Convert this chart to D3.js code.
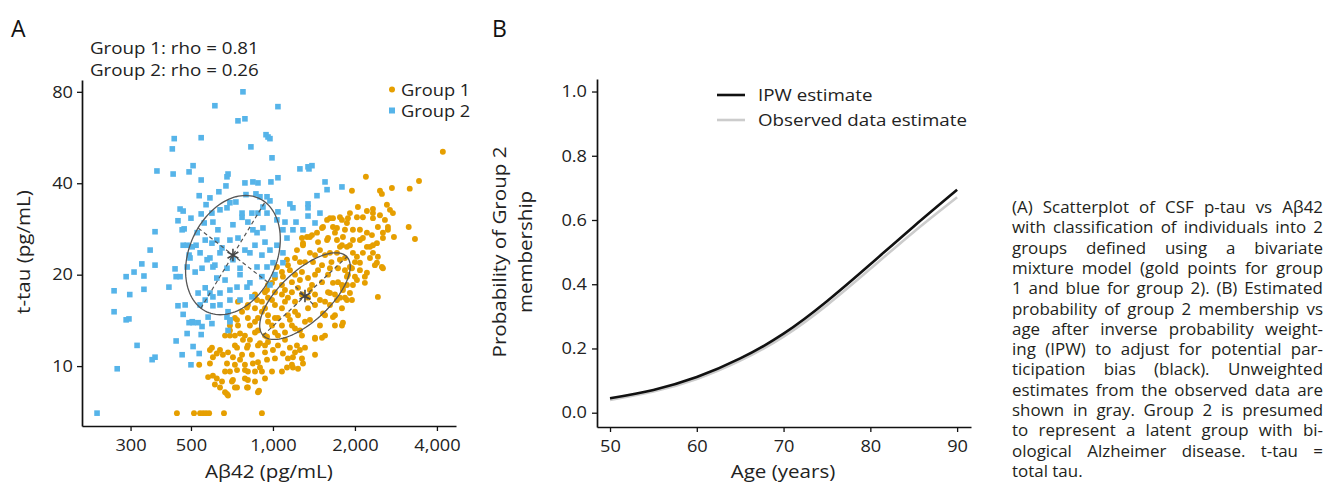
<!DOCTYPE html>
<html>
<head>
<meta charset="utf-8">
<script src="https://cdn.jsdelivr.net/npm/d3@7"></script>
<style>
  html, body { margin: 0; padding: 0; background: #fff; }
  svg { display: block; }
  text { font-family: "Open Sans", sans-serif; }
</style>
</head>
<body>
<svg id="chart" width="1327" height="488"></svg>
<script>
// ---------------- DATA ----------------
// Panel A: Aβ42 (pg/mL), t-tau (pg/mL)
const group1Points = [
[4205,50.8],[3438,40.7],[3178,38.4],[2734,38.6],[2471,37.8],[2512,36.9],[2194,42.0],[1950,37.8],[2757,31.9],[2621,34.0],[3151,28.7],[3322,26.2],[2781,26.6],[2428,16.9],[2534,21.0],[2408,21.9],[2329,23.6],[2534,27.5],[2643,28.7],[2577,30.3],[2213,27.5],[2051,33.4],[1917,31.9],[2139,30.9],[2329,31.9],[1762,30.9],[1619,30.7],[1527,28.7],[1661,28.7],[1869,29.6],[1966,28.1],[2086,26.0],[2271,24.7],[2139,23.6],[1966,23.6],[1869,24.7],[1718,26.0],[1580,26.0],[1451,27.5],[1367,26.6],[1289,25.4],[1367,23.6],[1488,24.1],[1619,23.6],[1762,22.4],[1917,21.2],[2086,21.9],[2213,20.3],[2034,19.2],[1869,19.7],[1807,18.2],[1661,18.8],[1619,17.4],[1718,16.5],[1869,16.5],[1807,13.9],[1661,14.5],[1527,14.9],[1514,12.4],[1427,12.3],[1289,10.2],[1184,9.9],[1126,9.9],[1256,11.3],[1154,11.5],[1184,10.7],[1088,11.0],[1000,11.3],[951,10.5],[896,9.9],[844,10.2],[789,9.7],[809,9.0],[889,8.3],[803,8.5],[738,9.7],[678,10.2],[713,10.7],[655,10.9],[602,10.7],[587,11.3],[639,11.3],[578,9.2],[622,9.1],[639,8.5],[678,8.1],[738,8.5],[713,9.0],[602,9.3],[536,10.1],[587,10.2],[695,12.6],[757,12.8],[823,12.2],[896,11.9],[951,12.5],[803,11.5],[738,11.5],
[1464,25.6],[1593,26.4],[1689,27.5],[1792,25.0],[1427,23.2],[1289,25.0],[1205,22.7],[1311,22.0],[1135,21.5],[1079,20.4],[1017,19.5],[959,18.5],[935,17.5],[1017,17.5],[1079,18.5],[1174,18.9],[1236,18.1],[1391,18.5],[1514,18.9],[1593,20.0],[1427,20.0],[1278,20.4],[1514,21.5],[1640,22.0],[1733,21.0],[1838,22.7],[1885,20.0],[1792,18.5],[1689,17.2],[1553,16.3],[1427,15.9],[1345,16.8],[1205,16.3],[1107,16.3],[1017,15.9],[935,15.5],[859,15.5],[809,15.9],[770,15.1],[725,14.4],[744,13.6],[809,14.4],[881,14.4],[959,14.0],[1043,14.4],[1135,14.7],[1236,14.7],[1311,14.0],[1205,13.3],[1107,12.9],[1017,12.9],[935,12.6],[859,12.9],[789,12.6],[725,12.6],[809,11.7],[881,11.7],[959,12.0],[1043,11.7],[935,11.1],[837,10.9],[770,10.9],[725,11.7],[684,11.1],[667,12.6],[695,13.6],[744,16.3],[859,17.2],[911,16.3],[959,16.8],[1079,17.2],[1174,17.5],[1278,17.2],[959,14.7],[859,14.0],[1593,17.5],[1427,17.2],[1345,15.5],[1205,15.1],[1079,15.5],[1174,13.6],[1079,13.6],[992,13.6],[1689,13.6],[1553,12.6],[1427,12.4],[1278,12.6],[1311,11.5],[1205,11.1],[1135,10.6],[1278,10.6],[1427,10.9],[1017,10.6],[881,10.3],[789,10.1],[725,10.1],[667,9.6],[650,8.9],[707,8.9],[789,9.1],[859,8.9],[935,9.1],[992,9.6],[809,9.6],[725,8.5],[809,8.5],[881,8.2],[667,8.2],[684,8.0],[911,9.6],[1079,9.6],[1174,10.1],[1236,9.8],[1792,13.6],[1792,15.5],[1689,14.7],[1838,16.8],[1869,18.5],[1733,18.9],
[2329,32.9],[2213,32.4],[2689,32.7],[1661,30.7],[1792,30.3],[1885,30.7],[2034,30.9],[2329,30.7],[2471,31.4],[1718,28.5],[1838,28.1],[2086,28.1],[2428,28.7],[2643,28.1],[2534,26.4],[1807,26.6],[1966,26.0],[2139,26.4],[2309,27.0],[2408,25.4],[1762,24.7],[1917,25.0],[2213,24.7],[2329,25.0],[1718,23.6],[2034,22.9],[2271,22.7],[2428,22.9],[2512,21.2],[2368,21.5],[2086,20.7],[1950,21.0],[2000,19.7],[2175,19.7],[2175,18.8],[1966,18.5],[1807,17.8],[1917,17.4],
[1126,22.4],[1225,24.1],[1333,26.6],[1580,30.3],[1034,21.2],[1088,19.7],[992,18.8],[951,17.8],[874,16.5],[803,15.6],[738,14.2],[695,13.1],[1514,28.5],[1391,27.0],[1278,26.4],[597,11.5],[622,11.0],[612,8.7],
[1256,19.2],[1367,17.8],[1488,16.5],[1205,20.0],[1107,17.8],[992,16.5],[911,15.1],[823,13.6],[776,12.2],[881,13.1],[1043,12.6],[1154,14.2],[1256,13.1],[1367,14.2],[1553,14.7],[1619,15.9],[1762,16.8],[1464,20.7],[1619,21.0],[1345,19.5],[1135,16.8],[1017,14.4],[935,11.7],[757,10.5],[695,9.6],[859,9.6],[1107,12.2],[1225,11.7],[1488,13.6],[1950,16.5],[2000,22.0],[1838,20.7],[1553,23.2],[1403,22.0],[1256,22.0],[1154,20.7],
[444,7.0],[513,7.0],[540,7.0],[554,7.0],[568,7.0],[583,7.0],[661,7.0],[911,7.0]
];
const group2Points = [
[776,80.0],[612,72.0],[1043,71.5],[744,64.2],[789,65.2],[943,57.8],[959,56.8],[975,56.1],[545,56.5],[434,56.1],[427,51.9],[830,52.7],[992,48.5],[375,43.9],[430,42.9],[492,43.6],[509,45.7],[1256,44.6],[1345,45.3],[1391,45.7],[1356,44.6],[684,42.9],[678,42.0],[672,39.2],[545,41.0],[633,37.5],[536,36.4],[587,35.8],[789,40.1],[844,40.4],[881,40.1],[983,40.4],[1043,41.7],[1553,40.4],[1580,38.1],[1792,38.9],[1451,36.4],[866,36.9],[896,36.1],[951,36.1],[975,35.0],[456,32.9],[468,32.4],[500,30.7],[545,31.7],[597,31.9],[639,32.7],[695,34.5],[731,34.7],[678,33.2],[770,31.9],[837,31.9],[881,31.9],[951,31.9],[1043,32.2],[1154,34.2],[1184,33.2],[1345,34.2],[1345,33.2],[1488,31.9],[1427,29.6],[1345,31.2],[369,27.7],[448,30.1],[472,28.3],[527,27.5],[559,29.6],[602,29.8],[628,28.1],[713,29.2],[770,30.9],[809,29.8],[844,28.1],[874,27.5],[919,28.5],[1034,30.3],[1088,28.1],[1184,28.1],[1289,28.1],[1126,26.4],[1034,25.0],[1088,23.6],[354,24.1],[330,21.7],[369,21.5],[309,20.4],[289,19.7],[336,19.8],[296,14.3],[289,14.2],[261,17.7],[261,15.1],[336,17.9],[415,18.2],[437,20.9],[441,19.7],[456,19.7],[484,21.2],[492,23.2],[484,25.0],[522,25.0],[540,23.6],[573,22.4],[622,26.0],[639,23.6],[602,21.2],[678,21.0],[713,22.4],[757,21.0],[823,23.6],[874,21.2],[951,21.2],[1000,21.9],[1088,21.9],[911,19.7],[803,18.2],[738,18.2],[695,17.8],[639,17.4],[587,17.4],[531,17.4],[540,15.9],[578,14.5],[602,15.8],[678,14.5],[695,14.0],[684,15.1],[492,13.9],[509,13.9],[531,13.9],[549,13.5],[484,12.8],[545,12.7],[441,12.1],[536,11.0],[509,11.6],[464,10.9],[369,10.7],[360,10.5],[268,9.8],[500,10.1],[226,7.0],[317,11.7],[468,14.8],[505,14.0],[597,13.8],[564,18.1],[602,16.9],[518,20.4],[549,21.0],[496,22.7],[468,25.0],[505,24.7],[464,28.1],[564,26.0],[597,25.4],[587,22.7],[612,21.5],[695,26.0],[650,24.5],[744,26.4],[789,24.1],[859,25.0],[935,25.6],[975,24.1],[911,23.2],[757,20.0],[667,19.2],[823,18.8],[622,19.5],[1017,20.0],[975,18.5],[695,16.5],[639,15.9],[757,16.5],[837,16.9],[684,13.1],[695,14.2],[564,16.5],[476,15.9],[448,15.8],[298,17.2],[1107,29.8],[1215,29.8],[919,33.4],[568,34.0],[796,36.7]
];
// Fitted ellipses: center, end of major semi-axis, end of minor semi-axis, end of drawn minor axis
const group1Ellipse = { center: [1311, 17.0], major: [1869, 22.9], minor: [1514, 14.8], minorAxis: [1421, 15.8] };
const group2Ellipse = { center: [713, 23.2], major: [935, 34.7], minor: [531, 28.5], minorAxis: [531, 28.5] };
const rhoLabels = ["Group 1: rho = 0.81", "Group 2: rho = 0.26"];
const groupNames = ["Group 1", "Group 2"];
const xTicksA = [300, 500, 1000, 2000, 4000];
const yTicksA = [10, 20, 40, 80];

// Panel B
const ages = [50, 55, 60, 65, 70, 75, 80, 85, 90];
const ipwEstimate = [0.045, 0.071, 0.111, 0.169, 0.246, 0.347, 0.462, 0.580, 0.694];
const observedEstimate = [0.040, 0.066, 0.105, 0.162, 0.237, 0.335, 0.448, 0.563, 0.671];
const seriesNames = ["IPW estimate", "Observed data estimate"];
const xTicksB = [50, 60, 70, 80, 90];
const yTicksB = [0, 0.2, 0.4, 0.6, 0.8, 1.0];

const captionLines = [
  "(A) Scatterplot of CSF p-tau vs A\u03b242",
  "with classification of individuals into 2",
  "groups defined using a bivariate",
  "mixture model (gold points for group",
  "1 and blue for group 2). (B) Estimated",
  "probability of group 2 membership vs",
  "age after inverse probability weight-",
  "ing (IPW) to adjust for potential par-",
  "ticipation bias (black). Unweighted",
  "estimates from the observed data are",
  "shown in gray. Group 2 is presumed",
  "to represent a latent group with bi-",
  "ological Alzheimer disease. t-tau =",
  "total tau."
];

// ---------------- DRAW ----------------
function stretch(sel, k) {
  sel.each(function () {
    const w = this.getComputedTextLength();
    d3.select(this).attr("textLength", w * k).attr("lengthAdjust", "spacingAndGlyphs");
  });
  return sel;
}

function draw() {
const svg = d3.select("#chart");
const ORANGE = "#E69F00", BLUE = "#56B4E9";
const TICK_FS = 16.4, TICK_K = 1.11;
const TITLE_FS = 18.2, TITLE_K = 1.13;
const NOTE_FS = 17.2, NOTE_K = 1.09;

// ===== Panel A =====
const xA = d3.scaleLog().domain([199, 4700]).range([82, 456]);
const yA = d3.scaleLog().domain([6.35, 87.5]).range([426, 80]);
const gA = svg.append("g");

gA.append("text").attr("x", 11).attr("y", 37).attr("font-size", 23).attr("fill", "#111").text("A");
rhoLabels.forEach((t, i) => {
  stretch(gA.append("text").attr("x", 90).attr("y", 54 + i * 22).attr("font-size", NOTE_FS).attr("fill", "#222").text(t), NOTE_K);
});

// points
gA.append("g").selectAll("circle").data(group1Points).join("circle")
  .attr("cx", d => xA(d[0])).attr("cy", d => yA(d[1])).attr("r", 2.95).attr("fill", ORANGE);
const sq = 5.6;
gA.append("g").selectAll("rect").data(group2Points).join("rect")
  .attr("x", d => xA(d[0]) - sq / 2).attr("y", d => yA(d[1]) - sq / 2)
  .attr("width", sq).attr("height", sq).attr("fill", BLUE);

// ellipses
function px(p) { return [xA(p[0]), yA(p[1])]; }
[group2Ellipse, group1Ellipse].forEach(e => {
  const c = px(e.center), a = px(e.major), b = px(e.minor), m = px(e.minorAxis);
  const va = [a[0] - c[0], a[1] - c[1]], vb = [b[0] - c[0], b[1] - c[1]];
  const pts = d3.range(0, 361, 3).map(deg => {
    const t = deg * Math.PI / 180;
    return [c[0] + Math.cos(t) * va[0] + Math.sin(t) * vb[0], c[1] + Math.cos(t) * va[1] + Math.sin(t) * vb[1]];
  });
  gA.append("path").attr("d", d3.line()(pts)).attr("fill", "none").attr("stroke", "#555").attr("stroke-width", 1.3);
  gA.append("line").attr("x1", 2 * c[0] - a[0]).attr("y1", 2 * c[1] - a[1]).attr("x2", a[0]).attr("y2", a[1])
    .attr("stroke", "#555").attr("stroke-width", 1.2).attr("stroke-dasharray", "4,3");
  gA.append("line").attr("x1", 2 * c[0] - m[0]).attr("y1", 2 * c[1] - m[1]).attr("x2", m[0]).attr("y2", m[1])
    .attr("stroke", "#555").attr("stroke-width", 1.2).attr("stroke-dasharray", "4,3");
  gA.append("path").attr("d", d3.symbol(d3.symbolAsterisk, 110)())
    .attr("transform", `translate(${c[0]},${c[1]})`).attr("fill", "none").attr("stroke", "#444").attr("stroke-width", 1.6);
});

// axes
const axA_x = gA.append("g").attr("transform", "translate(0,426)")
  .call(d3.axisBottom(xA).tickValues(xTicksA).tickFormat(d3.format(",")).tickSize(5).tickPadding(8).tickSizeOuter(0));
const axA_y = gA.append("g").attr("transform", "translate(82,0)")
  .call(d3.axisLeft(yA).tickValues(yTicksA).tickFormat(d3.format("d")).tickSize(5).tickPadding(4).tickSizeOuter(0));
[axA_x, axA_y].forEach(ax => {
  ax.select(".domain").attr("stroke", "#111").attr("stroke-width", 1.7);
  ax.selectAll(".tick line").attr("stroke", "#111").attr("stroke-width", 1.3);
  stretch(ax.selectAll(".tick text").attr("font-family", "Open Sans").attr("font-size", TICK_FS).attr("fill", "#222"), TICK_K);
});
stretch(gA.append("text").attr("x", 269).attr("y", 478).attr("text-anchor", "middle").attr("font-size", TITLE_FS).attr("fill", "#222").text("A\u03b242 (pg/mL)"), TITLE_K);
stretch(gA.append("text").attr("transform", "translate(30,252) rotate(-90)").attr("text-anchor", "middle").attr("font-size", TITLE_FS).attr("fill", "#222").text("t-tau (pg/mL)"), TITLE_K);

// legend A
const legA = gA.append("g");
legA.append("circle").attr("cx", 392).attr("cy", 89.5).attr("r", 3).attr("fill", ORANGE);
legA.append("rect").attr("x", 389).attr("y", 107.5).attr("width", 6).attr("height", 6).attr("fill", BLUE);
groupNames.forEach((t, i) => {
  stretch(legA.append("text").attr("x", 401).attr("y", 95.8 + i * 21).attr("font-size", 16.6).attr("fill", "#222").text(t), 1.1);
});

// ===== Panel B =====
const xB = d3.scaleLinear().domain([48.5, 91.6]).range([597, 971]);
const yB = d3.scaleLinear().domain([-0.0445, 1.039]).range([427, 79]);
const gB = svg.append("g");
gB.append("text").attr("x", 492).attr("y", 37).attr("font-size", 23).attr("fill", "#111").text("B");

const line = d3.line().x((d, i) => xB(ages[i])).y(d => yB(d)).curve(d3.curveNatural);
gB.append("path").attr("d", line(observedEstimate)).attr("fill", "none").attr("stroke", "#cccccc").attr("stroke-width", 2.6);
gB.append("path").attr("d", line(ipwEstimate)).attr("fill", "none").attr("stroke", "#111").attr("stroke-width", 2.6);

const axB_x = gB.append("g").attr("transform", "translate(0,427)")
  .call(d3.axisBottom(xB).tickValues(xTicksB).tickFormat(d3.format("d")).tickSize(5).tickPadding(8).tickSizeOuter(0));
const axB_y = gB.append("g").attr("transform", "translate(597,0)")
  .call(d3.axisLeft(yB).tickValues(yTicksB).tickFormat(d3.format(".1f")).tickSize(5).tickPadding(5).tickSizeOuter(0));
[axB_x, axB_y].forEach(ax => {
  ax.select(".domain").attr("stroke", "#111").attr("stroke-width", 1.7);
  ax.selectAll(".tick line").attr("stroke", "#111").attr("stroke-width", 1.3);
  stretch(ax.selectAll(".tick text").attr("font-family", "Open Sans").attr("font-size", TICK_FS).attr("fill", "#222"), TICK_K);
});
stretch(gB.append("text").attr("x", 783).attr("y", 478).attr("text-anchor", "middle").attr("font-size", TITLE_FS).attr("fill", "#222").text("Age (years)"), TITLE_K);
const ytLines = ["Probability of Group 2", "membership"];
ytLines.forEach((t, i) => {
  stretch(gB.append("text").attr("transform", `translate(${506 + i * 26},252) rotate(-90)`).attr("text-anchor", "middle")
    .attr("font-size", TITLE_FS).attr("fill", "#222").text(t), TITLE_K);
});

// legend B
const legColors = ["#111", "#cccccc"];
seriesNames.forEach((t, i) => {
  const y = 95 + i * 25;
  gB.append("line").attr("x1", 717).attr("x2", 745).attr("y1", y).attr("y2", y).attr("stroke", legColors[i]).attr("stroke-width", 2.6);
  stretch(gB.append("text").attr("x", 758).attr("y", y + 6.3).attr("font-size", NOTE_FS).attr("fill", "#222").text(t), NOTE_K);
});

// ===== Caption =====
const capLeft = 1012, capWidth = 311, capTop = 213, capLead = 20.3, capK = 1.1;
const capG = svg.append("g").attr("font-size", 15.4).attr("fill", "#231f20");
captionLines.forEach((lineTxt, i) => {
  const y = capTop + i * capLead;
  const isLast = i === captionLines.length - 1;
  const tmp = capG.append("text").attr("x", capLeft).attr("y", y).text(lineTxt);
  const full = tmp.node().getComputedTextLength();
  if (isLast) { tmp.attr("textLength", full * capK).attr("lengthAdjust", "spacingAndGlyphs"); return; }
  if (full * capK >= capWidth) {
    tmp.attr("textLength", capWidth).attr("lengthAdjust", "spacingAndGlyphs");
    return;
  }
  tmp.remove();
  const words = lineTxt.split(" ");
  const widths = words.map(w => {
    const t = capG.append("text").text(w);
    const wd = t.node().getComputedTextLength() * capK;
    t.remove();
    return wd;
  });
  const gap = (capWidth - d3.sum(widths)) / (words.length - 1);
  let x = capLeft;
  words.forEach((w, j) => {
    capG.append("text").attr("x", x).attr("y", y).attr("textLength", widths[j]).attr("lengthAdjust", "spacingAndGlyphs").text(w);
    x += widths[j] + gap;
  });
});
}
if (document.fonts && document.fonts.ready) { document.fonts.load("16px 'Open Sans'").then(draw, draw); } else { draw(); }
</script>
</body>
</html>
